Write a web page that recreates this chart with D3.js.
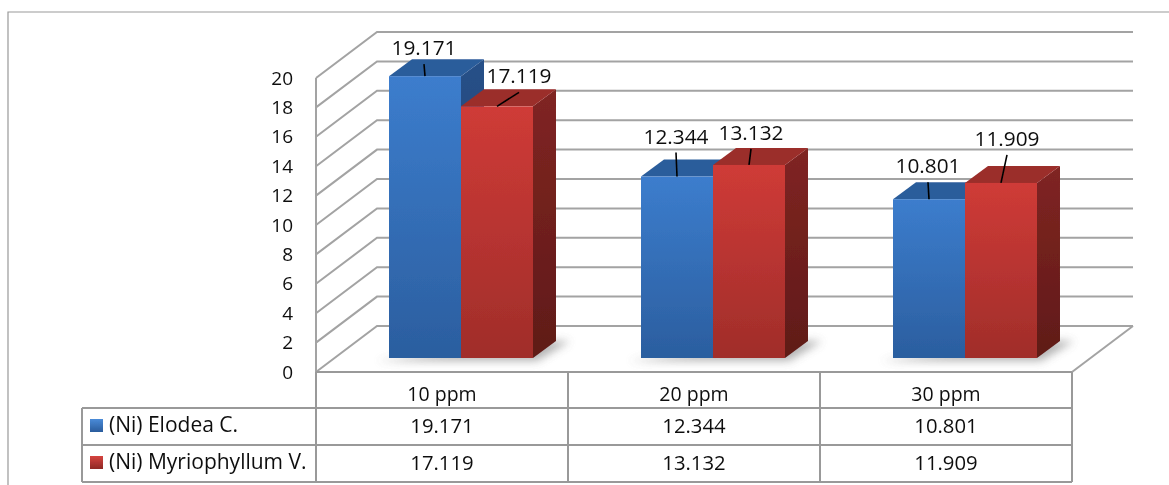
<!DOCTYPE html>
<html>
<head>
<meta charset="utf-8">
<script src="https://cdn.jsdelivr.net/npm/d3@7.9.0/dist/d3.min.js"></script>
<style>
  html, body { margin: 0; padding: 0; background: #fff; }
  svg { display: block; }
  text { font-family: "Open Sans", Lato, sans-serif; fill: #111; }
</style>
</head>
<body>
<svg id="chart" width="1169" height="485"></svg>
<script>
const categories = ['10 ppm', '20 ppm', '30 ppm'];
const seriesNames = ['(Ni) Elodea C.', '(Ni) Myriophyllum V.'];
const elodea = [19.171, 12.344, 10.801];
const myriophyllum = [17.119, 13.132, 11.909];
const valueTicks = [0, 2, 4, 6, 8, 10, 12, 14, 16, 18, 20];

const width = 1169, height = 485;
const gridColor = '#a3a3a3', tableColor = '#999';

// layout of the fake 3d box
const left = 316, right = 1072, floorY = 372, topY = 78;
const wallDx = 61, wallDy = -46;
const barDx = 23, barDy = -17, barLift = 14, barShift = 19;

// hand placed data labels: label centre x and baseline y, relative to the bar's top centre
const labelOffsets = [
  [[-1, -21], [22, -23]],
  [[-1, -33], [2, -25]],
  [[-1, -26], [6, -37]]
];

const svg = d3.select('#chart');

const y = d3.scaleLinear().domain([0, 20]).range([floorY, topY]);
const x = d3.scaleBand().domain(categories).range([left, right]).paddingInner(0.4286).paddingOuter(0.2143);
const sub = d3.scaleBand().domain(d3.range(seriesNames.length)).range([0, x.bandwidth()]);

const defs = svg.append('defs');
function gradient(id, top, bottom) {
  const g = defs.append('linearGradient').attr('id', id).attr('x1', 0).attr('y1', 0).attr('x2', 0).attr('y2', 1);
  g.append('stop').attr('offset', '0%').attr('stop-color', top);
  g.append('stop').attr('offset', '100%').attr('stop-color', bottom);
}
gradient('front0', '#3c7dcd', '#2b5e9f');
gradient('front1', '#cf3b37', '#a02d2a');
gradient('side0', '#285088', '#1f3f6b');
gradient('side1', '#802522', '#5f1a18');
gradient('key0', '#4a8bd8', '#2a5c9c');
gradient('key1', '#d6443f', '#8e2825');
defs.append('filter').attr('id', 'soft').attr('x', '-20%').attr('y', '-100%').attr('width', '140%').attr('height', '300%')
  .append('feGaussianBlur').attr('stdDeviation', 4);
defs.append('filter').attr('id', 'img').append('feGaussianBlur').attr('stdDeviation', 0.4);

const root = svg.append('g').attr('filter', 'url(#img)');

// outer frame, only top and left show up
root.append('path').attr('d', `M8 485V12H${width}`).attr('fill', 'none').attr('stroke', '#999').attr('stroke-width', 1.2);

// walls
const walls = root.append('g').attr('fill', 'none').attr('stroke', gridColor).attr('stroke-width', 2);
valueTicks.forEach(t => {
  walls.append('path').attr('d', `M${left} ${y(t)}L${left + wallDx} ${y(t) + wallDy}H${right + wallDx}`);
});
walls.append('path').attr('d', `M${left} ${y(0)}V${y(20)}`);
walls.append('path').attr('d', `M${right} ${y(0)}L${right + wallDx} ${y(0) + wallDy}`);

// y axis
const axis = d3.axisLeft(y).tickValues(valueTicks).tickSize(0).tickPadding(23);
const axisG = root.append('g').attr('transform', `translate(${left},0)`).call(axis);
axisG.select('.domain').remove();
axisG.selectAll('text').attr('font-size', 19).style('font-family', '"Open Sans", sans-serif');

// bars
const data = categories.map((c, i) => [elodea[i], myriophyllum[i]]);

const baseY = floorY - barLift;
categories.forEach(c => {
  const x0 = x(c) + barShift, w = x.bandwidth();
  root.append('path')
    .attr('d', `M${x0 - 12} ${baseY + 3}H${x0 + w + 4}L${x0 + w + barDx + 14} ${baseY + barDy}H${x0 + w}Z`)
    .attr('fill', '#777').attr('opacity', 0.55).attr('filter', 'url(#soft)');
});

const labels = [];
data.forEach((vals, ci) => {
  const group = root.append('g').attr('transform', `translate(${x(categories[ci]) + barShift},0)`);
  vals.forEach((v, si) => {
    const bx = sub(si), bw = sub.bandwidth(), ty = y(v) - barLift;
    group.append('path')
      .attr('d', `M${bx + bw} ${ty}l${barDx} ${barDy}V${baseY + barDy}L${bx + bw} ${baseY}Z`)
      .attr('fill', `url(#side${si})`);
    group.append('path')
      .attr('d', `M${bx} ${ty}l${barDx} ${barDy}h${bw}l${-barDx} ${-barDy}Z`)
      .attr('fill', si === 0 ? '#2c5d9b' : '#9b2d2a');
    group.append('rect')
      .attr('x', bx).attr('y', ty).attr('width', bw).attr('height', baseY - ty)
      .attr('fill', `url(#front${si})`);
    const [dx, dy] = labelOffsets[ci][si];
    labels.push({ v, cx: x(categories[ci]) + barShift + bx + bw / 2, ty, dx, dy });
  });
});

// data labels and leader lines
labels.forEach(d => {
  const lx = d.cx + d.dx, ly = d.ty + d.dy;
  root.append('line')
    .attr('x1', d.cx).attr('y1', d.ty)
    .attr('x2', lx).attr('y2', ly + 9)
    .attr('stroke', '#000').attr('stroke-width', 1.6);
  root.append('text')
    .attr('x', lx).attr('y', ly)
    .attr('text-anchor', 'middle').attr('font-size', 20.8)
    .text(d3.format('.3f')(d.v));
});

// data table
const rowY = [floorY, 408, 445, 482];
const keyX = 82;
const table = root.append('g').attr('fill', 'none').attr('stroke', tableColor).attr('stroke-width', 2);
x.domain().forEach(c => {
  const cx = x(c) + x.bandwidth() / 2 - x.step() / 2;
  table.append('path').attr('d', `M${cx} ${floorY}V${rowY[3]}`);
});
table.append('path').attr('d', `M${right} ${floorY}V${rowY[3]}`);
table.append('path').attr('d', `M${left} ${floorY}H${right}`);
[rowY[1], rowY[2], rowY[3]].forEach(ry => {
  table.append('path').attr('d', `M${keyX} ${ry}H${right}`);
});
table.append('path').attr('d', `M${keyX} ${rowY[1]}V${rowY[3]}`);

categories.forEach(c => {
  root.append('text')
    .attr('x', x(c) + x.bandwidth() / 2).attr('y', 401)
    .attr('text-anchor', 'middle').attr('font-size', 19.5).text(c);
});
[elodea, myriophyllum].forEach((vals, si) => {
  const base = rowY[si + 1] + 25;
  vals.forEach((v, ci) => {
    root.append('text')
      .attr('x', x(categories[ci]) + x.bandwidth() / 2).attr('y', base)
      .attr('text-anchor', 'middle').attr('font-size', 20.3).text(d3.format('.3f')(v));
  });
  root.append('rect')
    .attr('x', keyX + 8).attr('y', rowY[si + 1] + 11).attr('width', 13).attr('height', 13)
    .attr('fill', `url(#key${si})`);
  root.append('text')
    .attr('x', keyX + 27).attr('y', base - 1)
    .attr('font-size', 21).text(seriesNames[si]);
});
</script>
</body>
</html>
